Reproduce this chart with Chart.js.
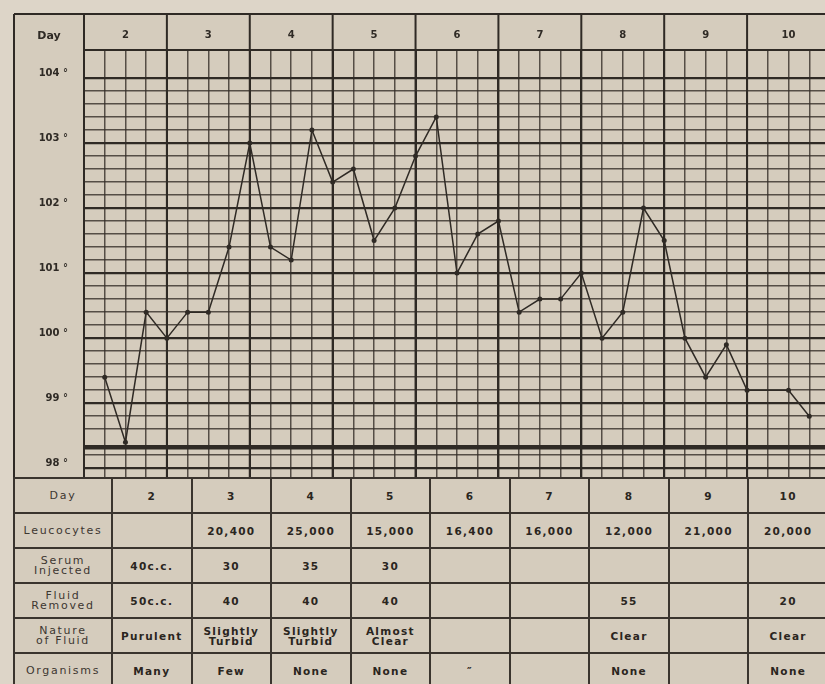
<!DOCTYPE html>
<html lang="en">

<head>
    <meta charset="UTF-8" />
    <title>Temperature Chart</title>

    <!-- Chart.js -->
    <script src="https://cdn.jsdelivr.net/npm/chart.js"></script>

    <style>
        body {
            margin: 0;
            width: 825px;
            height: 684px;
            overflow: hidden;
            position: relative;
            background-color: #ddd5c8;
            font-family: "DejaVu Sans", sans-serif;
            color: #352f2a;
        }

        #tempChart {
            position: absolute;
            left: 0;
            top: 0;
        }

        #records {
            position: absolute;
            left: 13px;
            top: 477px;
            width: 816px;
            border-collapse: collapse;
            table-layout: fixed;
            background-color: #d5ccbd;
        }

        #records td {
            border: 2px solid #3a342e;
            text-align: center;
            padding: 0;
            font-size: 10.5px;
            font-weight: bold;
            letter-spacing: 1.3px;
            line-height: 10px;
            color: #2a2520;
        }

        #records tr {
            height: 35px;
        }

        #records td.row-label {
            font-weight: normal;
            font-size: 11px;
            letter-spacing: 1.7px;
            color: #3d3731;
        }
    </style>
</head>

<body>

    <canvas id="tempChart" width="825" height="478"></canvas>
    <table id="records">
        <colgroup id="recordCols"></colgroup>
        <tbody></tbody>
    </table>

    <script>
        const days = ["2", "3", "4", "5", "6", "7", "8", "9", "10"];
        const readingsPerDay = 4;

        // one reading per grid line, starting at the first line of day 2 (null = no reading)
        const temperatures = [
            99.4, 98.4, 100.4, 100.0, 100.4, 100.4, 101.4, 103.0,
            101.4, 101.2, 103.2, 102.4, 102.6, 101.5, 102.0, 102.8,
            103.4, 101.0, 101.6, 101.8, 100.4, 100.6, 100.6, 101.0,
            100.0, 100.4, 102.0, 101.5, 100.0, 99.4, 99.9, 99.2,
            null, 99.2, 98.8
        ];
        const degreeLabels = [98, 99, 100, 101, 102, 103, 104];
        const normalLine = 98.32; // heavy rule, drawn in place of the 98.4 line

        // table below the chart
        const rowLabels = ["Day", "Leucocytes", "Serum<br>Injected", "Fluid<br>Removed", "Nature<br>of Fluid", "Organisms"];
        const leucocytes = ["", "20,400", "25,000", "15,000", "16,400", "16,000", "12,000", "21,000", "20,000"];
        const serumInjected = ["40c.c.", "30", "35", "30", "", "", "", "", ""];
        const fluidRemoved = ["50c.c.", "40", "40", "40", "", "", "55", "", "20"];
        const natureOfFluid = ["Purulent", "Slightly<br>Turbid", "Slightly<br>Turbid", "Almost<br>Clear", "", "", "Clear", "", "Clear"];
        const organisms = ["Many", "Few", "None", "None", "″", "", "None", "", "None"];

        const ink = "#2f2a25";
        const paper = "#d5ccbd";
        const minorGrid = "rgba(52,46,40,0.8)";
        const slotCount = days.length * readingsPerDay;

        const points = temperatures.map((t, i) => ({ x: i + 1, y: t }));

        const gridValues = [];
        for (let v = 980; v <= 1040; v += 2) gridValues.push(v / 10);
        const yLines = gridValues.filter(v => v !== 98.4).concat(normalLine);
        const slotLines = [];
        for (let k = 0; k < slotCount; k++) slotLines.push(k);

        // paper, outer frame, header lines and "Day" label
        const chartFrame = {
            id: "chartFrame",
            beforeDraw(chart) {
                const { ctx } = chart;
                ctx.save();
                ctx.fillStyle = paper;
                ctx.fillRect(14, 14, chart.width - 14, chart.height - 14);
                ctx.restore();
            },
            afterDraw(chart) {
                const { ctx, chartArea, scales: { x, y } } = chart;
                ctx.save();
                ctx.strokeStyle = ink;
                ctx.lineWidth = 2;
                ctx.beginPath();
                ctx.moveTo(y.left, x.top);
                ctx.lineTo(chart.width, x.top);
                ctx.moveTo(y.left, x.top);
                ctx.lineTo(y.left, chartArea.bottom);
                for (let k = 0; k <= slotCount; k += readingsPerDay) {
                    const px = x.getPixelForValue(k);
                    ctx.moveTo(px, x.top);
                    ctx.lineTo(px, chartArea.bottom);
                }
                ctx.stroke();

                ctx.fillStyle = ink;
                ctx.font = "bold 11px 'DejaVu Sans'";
                ctx.textAlign = "center";
                ctx.textBaseline = "middle";
                ctx.fillText("Day", (y.left + y.right) / 2, (x.top + x.bottom) / 2 + 4);
                ctx.restore();
            }
        };

        new Chart(document.getElementById("tempChart"), {
            type: "line",
            data: {
                datasets: [{
                    data: points,
                    borderColor: ink,
                    borderWidth: 1.5,
                    pointRadius: 2.5,
                    pointBackgroundColor: ink,
                    pointBorderWidth: 0,
                    spanGaps: true,
                    tension: 0
                }]
            },
            options: {
                responsive: false,
                animation: false,
                layout: { autoPadding: false, padding: { left: 14, top: 14, right: 0, bottom: 0 } },
                plugins: { legend: { display: false }, tooltip: { enabled: false } },
                scales: {
                    x: {
                        type: "linear",
                        position: "top",
                        min: 0,
                        max: 35.76,
                        afterBuildTicks: s => { s.ticks = slotLines.map(v => ({ value: v })); },
                        afterFit: s => { s.height = 36; s.paddingLeft = 0; s.paddingRight = 0; },
                        grid: {
                            drawTicks: false,
                            color: c => c.tick.value % readingsPerDay === 0 ? ink : minorGrid,
                            lineWidth: c => c.tick.value % readingsPerDay === 0 ? 2 : 1.5
                        },
                        border: { display: true, color: ink, width: 2 },
                        ticks: {
                            autoSkip: false,
                            maxRotation: 0,
                            padding: 9,
                            color: ink,
                            font: { family: "DejaVu Sans", size: 10, weight: "bold" },
                            callback: v => v % readingsPerDay === 2 ? days[(v - 2) / readingsPerDay] : ""
                        }
                    },
                    y: {
                        min: 97.85,
                        max: 104.43,
                        afterBuildTicks: s => { s.ticks = yLines.map(v => ({ value: v })); },
                        afterFit: s => { s.width = 70; s.paddingTop = 0; s.paddingBottom = 0; },
                        grid: {
                            drawTicks: false,
                            color: c => (c.tick.value === normalLine || degreeLabels.includes(c.tick.value)) ? ink : minorGrid,
                            lineWidth: c => c.tick.value === normalLine ? 4.5 : degreeLabels.includes(c.tick.value) ? 2.2 : 1.5
                        },
                        border: { display: true, color: ink, width: 2 },
                        ticks: {
                            autoSkip: false,
                            padding: 16,
                            labelOffset: -5,
                            color: ink,
                            font: { family: "DejaVu Sans", size: 10, weight: "bold" },
                            callback: v => degreeLabels.includes(v) ? v + " °" : ""
                        }
                    }
                }
            },
            plugins: [chartFrame]
        });

        // Records table
        document.getElementById("recordCols").innerHTML =
            '<col style="width:98px">' + days.map(() => "<col>").join("");
        const rows = [days, leucocytes, serumInjected, fluidRemoved, natureOfFluid, organisms];
        document.querySelector("#records tbody").innerHTML = rows.map((cells, i) => `
            <tr>
                <td class="row-label">${rowLabels[i]}</td>
                ${cells.map(c => `<td>${c}</td>`).join("")}
            </tr>
        `).join("");
    </script>

</body>

</html>
